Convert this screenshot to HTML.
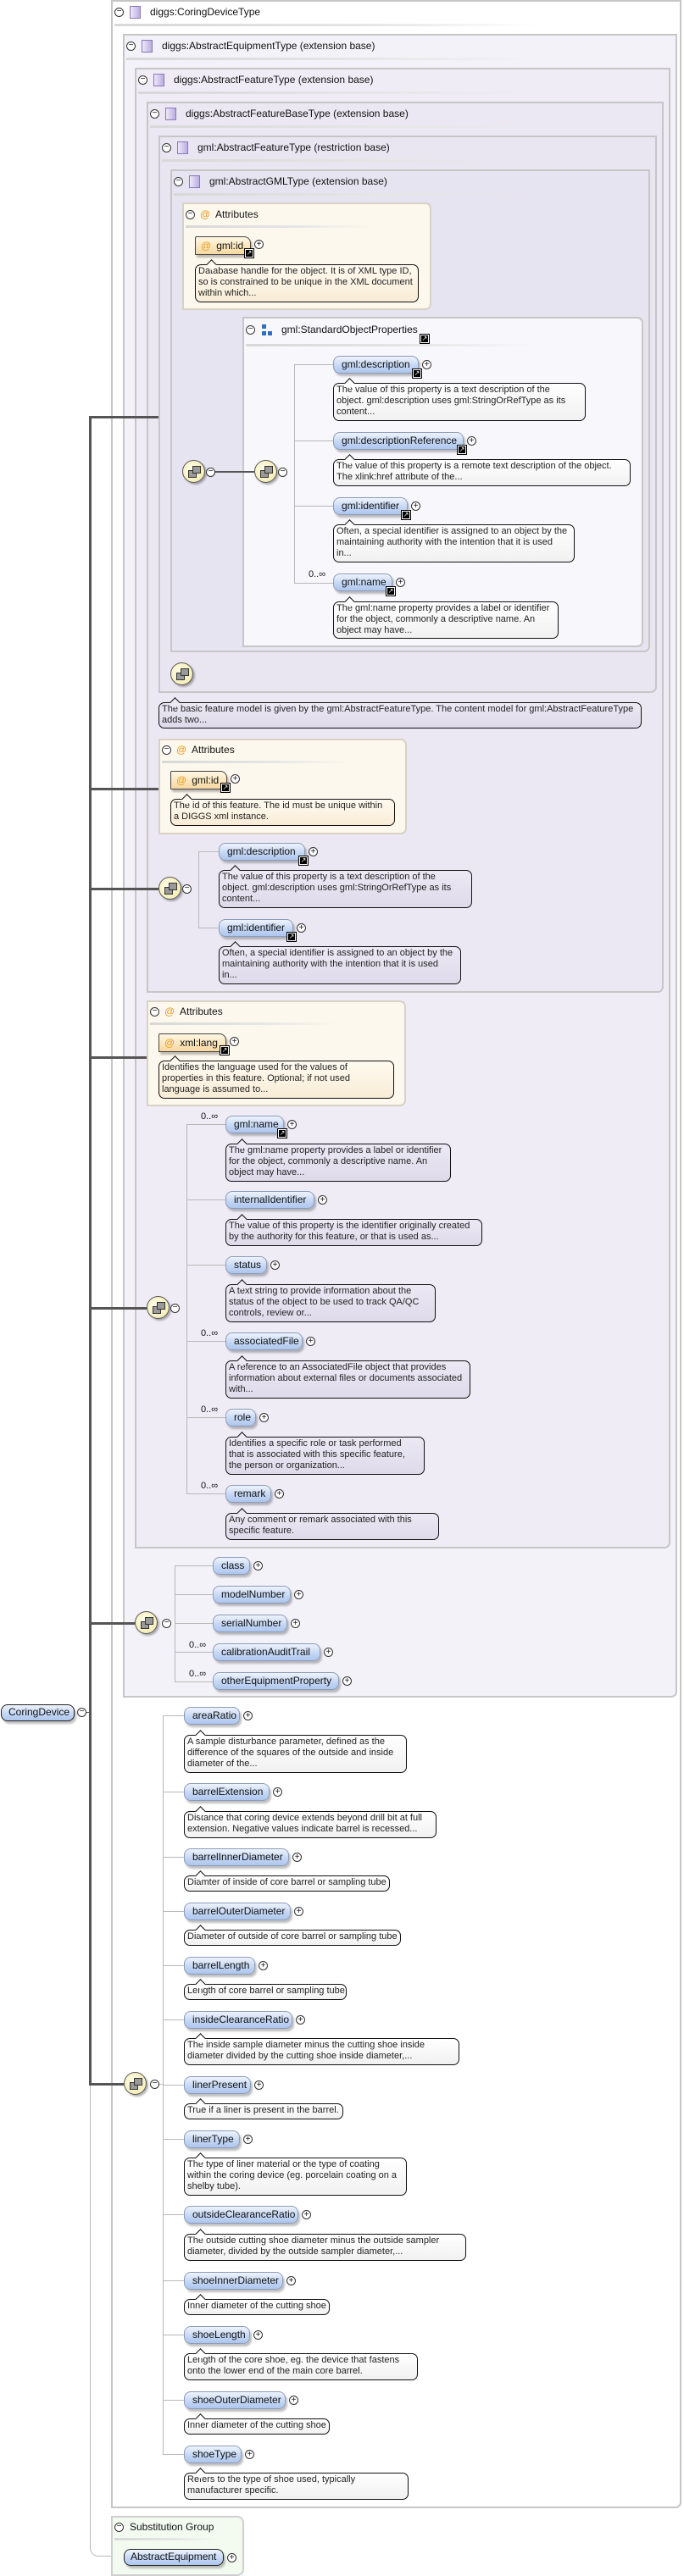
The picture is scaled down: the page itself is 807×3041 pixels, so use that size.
<!DOCTYPE html>
<html><head><meta charset="utf-8"><style>
body{margin:0;width:807px;height:3041px;position:relative;background:#fff;font-family:"Liberation Sans",Arial,sans-serif;overflow:hidden;color:#111}
div{position:absolute;box-sizing:border-box}
.box{border:2px solid #c6c6c6;border-radius:0 0 7px 0}
.ti{font-size:12px;white-space:nowrap;line-height:14px;color:#111}
.ul{height:3px;background:linear-gradient(90deg,#d8d8d8,#e6e6e6 60%,rgba(255,255,255,0))}
.sq{width:13px;height:15px;border:1px solid #8878b8;background:linear-gradient(90deg,#eee8fb,#b9aee0);}
.m{width:11px;height:11px;border:1px solid #333;border-radius:50%;font-size:10px;line-height:8px;text-align:center;background:#fff}
.p{width:11px;height:11px;border:1px solid #333;border-radius:50%;font-size:10px;line-height:9px;text-align:center;background:#fff}
.n{height:21px;line-height:19px;border:1px solid #8c9cb8;border-radius:8px;background:linear-gradient(#eef3fd,#c2d5f3 60%,#aec6ee);font-size:12px;padding-left:9px;white-space:nowrap;box-shadow:2px 3px 2px rgba(0,0,0,.25)}
.r{border:1.5px solid #222}
.a{height:22px;line-height:20px;border:1px solid #444;border-radius:2px 8px 0 0;background:linear-gradient(#fff7e3,#f6d8a0);font-size:12px;padding-left:6px;white-space:nowrap;box-shadow:2px 3px 2px rgba(0,0,0,.25)}
.a b{color:#e89a1c;font-weight:normal;margin-right:6px}
.b{border:1px solid #111;border-radius:7px;background:linear-gradient(#fff,#f1f1f1);font-size:11px;line-height:13px;padding:1px 2px 0 3px;white-space:nowrap;color:#222}
.b::before{content:"";position:absolute;left:14px;top:-5px;width:8px;height:8px;background:#fff;border-left:1px solid #111;border-top:1px solid #111;transform:rotate(45deg)}
.bl{background:linear-gradient(#ece9f5,#dedaea)}
.bl::before{background:#ece9f5}
.bo{background:linear-gradient(#fffaf0,#f8ecd6)}
.bo::before{background:#fffaf0}
.k{width:10px;height:10px;background:#000;border:1px solid #fff;outline:1px solid #000;color:#fff;font-size:8px;line-height:8px;text-align:center}
.h{height:1px;background:#b8b8b8}
.v{width:1px;background:#b8b8b8}
.H{height:3px;background:#555}
.s{width:27px;height:27px;border-radius:50%;border:1px solid #555;background:radial-gradient(circle at 40% 40%,#fffde6,#f1e7a8);box-shadow:2px 2px 2px rgba(0,0,0,.3)}
.s i{position:absolute;width:8px;height:7px;border:1px solid #333;background:#999}
.at{width:12px;height:14px;color:#e89a1c;font-size:12px;line-height:14px}
.c{font-size:11px;white-space:nowrap}
.attr{border:2px solid #d8d2c4;border-radius:0 7px 7px 0;background:#fdf8ed}
</style></head><body>

<!-- Box1 -->
<div class="box" style="left:131px;top:0;width:673px;height:2961px;background:#fff"></div>
<div class="m" style="left:135px;top:9px">−</div><div class="sq" style="left:153px;top:7px"></div>
<div class="ti" style="left:177px;top:7px">diggs:CoringDeviceType</div>
<div class="ul" style="left:135px;top:28px;width:500px"></div>

<!-- Box2 -->
<div class="box" style="left:145px;top:40px;width:654px;height:1964px;background:#f4f2f9"></div>
<div class="m" style="left:149px;top:49px">−</div><div class="sq" style="left:167px;top:47px"></div>
<div class="ti" style="left:191px;top:47px">diggs:AbstractEquipmentType (extension base)</div>
<div class="ul" style="left:149px;top:68px;width:480px"></div>

<!-- Box3 -->
<div class="box" style="left:159px;top:80px;width:632px;height:1748px;background:#efecf6"></div>
<div class="m" style="left:163px;top:89px">−</div><div class="sq" style="left:181px;top:87px"></div>
<div class="ti" style="left:205px;top:87px">diggs:AbstractFeatureType (extension base)</div>
<div class="ul" style="left:163px;top:108px;width:460px"></div>

<!-- Box4 -->
<div class="box" style="left:173px;top:120px;width:610px;height:1052px;background:#ebe8f3"></div>
<div class="m" style="left:177px;top:129px">−</div><div class="sq" style="left:195px;top:127px"></div>
<div class="ti" style="left:219px;top:127px">diggs:AbstractFeatureBaseType (extension base)</div>
<div class="ul" style="left:177px;top:148px;width:450px"></div>

<!-- Box5 -->
<div class="box" style="left:187px;top:160px;width:588px;height:658px;background:#e9e6f2"></div>
<div class="m" style="left:191px;top:169px">−</div><div class="sq" style="left:209px;top:167px"></div>
<div class="ti" style="left:233px;top:167px">gml:AbstractFeatureType (restriction base)</div>
<div class="ul" style="left:191px;top:188px;width:430px"></div>

<!-- Box6 -->
<div class="box" style="left:201px;top:200px;width:566px;height:570px;background:#e7e4f1"></div>
<div class="m" style="left:205px;top:209px">−</div><div class="sq" style="left:223px;top:207px"></div>
<div class="ti" style="left:247px;top:207px">gml:AbstractGMLType (extension base)</div>
<div class="ul" style="left:205px;top:228px;width:420px"></div>

<!-- Attr box A -->
<div class="attr" style="left:215px;top:239px;width:294px;height:127px"></div>
<div class="m" style="left:219px;top:248px">−</div><div class="at" style="left:236px;top:246px">@</div>
<div class="ti" style="left:254px;top:246px">Attributes</div>
<div class="ul" style="left:219px;top:266px;width:220px"></div>
<div class="a" style="left:230px;top:279px;width:66px"><b>@</b>gml:id</div>
<div class="k" style="left:289px;top:294px">↗</div><div class="p" style="left:300px;top:283px">+</div>
<div class="b bo" style="left:230px;top:312px;width:264px;height:45px">Database handle for the object. It is of XML type ID,<br>so is constrained to be unique in the XML document<br>within which...</div>

<!-- SOP box -->
<div class="box" style="left:286px;top:374px;width:473px;height:390px;background:#f8f7fc;border-radius:0 7px 7px 0"></div>
<div class="m" style="left:290px;top:384px">−</div>
<div style="left:309px;top:383px;width:5px;height:5px;background:#2d6fc0"></div>
<div style="left:309px;top:391px;width:5px;height:5px;background:#2d6fc0"></div>
<div style="left:316px;top:391px;width:5px;height:5px;background:#2d6fc0"></div>
<div class="ti" style="left:332px;top:382px">gml:StandardObjectProperties</div>
<div class="k" style="left:496px;top:395px">↗</div>
<div class="ul" style="left:290px;top:406px;width:340px"></div>

<div class="s" style="left:215px;top:543px"><i style="left:6px;top:11px"></i><i style="left:11px;top:6px"></i></div>
<div class="m" style="left:243px;top:552px">−</div>
<div class="H" style="left:254px;top:556px;width:46px;height:2px"></div>
<div class="s" style="left:300px;top:543px"><i style="left:6px;top:11px"></i><i style="left:11px;top:6px"></i></div>
<div class="m" style="left:328px;top:552px">−</div>
<div class="v" style="left:347px;top:430px;height:258px"></div>
<div class="h" style="left:347px;top:430px;width:46px"></div>
<div class="h" style="left:347px;top:520px;width:46px"></div>
<div class="h" style="left:347px;top:597px;width:46px"></div>
<div class="h" style="left:347px;top:688px;width:46px"></div>

<div class="n" style="left:393px;top:420px;width:101px">gml:description</div>
<div class="k" style="left:487px;top:436px">↗</div><div class="p" style="left:498px;top:425px">+</div>
<div class="b" style="left:393px;top:452px;width:298px;height:45px">The value of this property is a text description of the<br>object. gml:description uses gml:StringOrRefType as its<br>content...</div>
<div class="n" style="left:393px;top:510px;width:154px">gml:descriptionReference</div>
<div class="k" style="left:540px;top:526px">↗</div><div class="p" style="left:551px;top:515px">+</div>
<div class="b" style="left:393px;top:542px;width:351px;height:32px">The value of this property is a remote text description of the object.<br>The xlink:href attribute of the...</div>
<div class="n" style="left:393px;top:587px;width:88px">gml:identifier</div>
<div class="k" style="left:474px;top:603px">↗</div><div class="p" style="left:485px;top:592px">+</div>
<div class="b" style="left:393px;top:619px;width:285px;height:45px">Often, a special identifier is assigned to an object by the<br>maintaining authority with the intention that it is used<br>in...</div>
<div class="c" style="left:364px;top:672px">0..∞</div>
<div class="n" style="left:393px;top:677px;width:70px">gml:name</div>
<div class="k" style="left:456px;top:693px">↗</div><div class="p" style="left:467px;top:682px">+</div>
<div class="b" style="left:393px;top:710px;width:266px;height:44px">The gml:name property provides a label or identifier<br>for the object, commonly a descriptive name. An<br>object may have...</div>

<div class="s" style="left:201px;top:782px"><i style="left:6px;top:11px"></i><i style="left:11px;top:6px"></i></div>

<div class="b bl" style="left:187px;top:829px;width:570px;height:31px">The basic feature model is given by the gml:AbstractFeatureType. The content model for gml:AbstractFeatureType<br>adds two...</div>

<!-- Attr box B -->
<div class="attr" style="left:187px;top:872px;width:293px;height:113px"></div>
<div class="m" style="left:191px;top:880px">−</div><div class="at" style="left:208px;top:878px">@</div>
<div class="ti" style="left:226px;top:878px">Attributes</div>
<div class="ul" style="left:191px;top:898px;width:220px"></div>
<div class="a" style="left:201px;top:910px;width:67px"><b>@</b>gml:id</div>
<div class="k" style="left:261px;top:925px">↗</div><div class="p" style="left:272px;top:914px">+</div>
<div class="b bo" style="left:201px;top:943px;width:265px;height:32px">The id of this feature. The id must be unique within<br>a DIGGS xml instance.</div>

<div class="s" style="left:187px;top:1035px"><i style="left:6px;top:11px"></i><i style="left:11px;top:6px"></i></div>
<div class="m" style="left:215px;top:1044px">−</div>
<div class="v" style="left:234px;top:1005px;height:91px"></div>
<div class="h" style="left:234px;top:1005px;width:24px"></div>
<div class="h" style="left:234px;top:1095px;width:24px"></div>
<div class="n" style="left:258px;top:995px;width:102px">gml:description</div>
<div class="k" style="left:353px;top:1011px">↗</div><div class="p" style="left:364px;top:1000px">+</div>
<div class="b bl" style="left:258px;top:1027px;width:299px;height:45px">The value of this property is a text description of the<br>object. gml:description uses gml:StringOrRefType as its<br>content...</div>
<div class="n" style="left:258px;top:1085px;width:88px">gml:identifier</div>
<div class="k" style="left:339px;top:1101px">↗</div><div class="p" style="left:350px;top:1090px">+</div>
<div class="b bl" style="left:258px;top:1117px;width:286px;height:45px">Often, a special identifier is assigned to an object by the<br>maintaining authority with the intention that it is used<br>in...</div>

<!-- Attr box C -->
<div class="attr" style="left:173px;top:1181px;width:306px;height:125px"></div>
<div class="m" style="left:177px;top:1189px">−</div><div class="at" style="left:194px;top:1187px">@</div>
<div class="ti" style="left:212px;top:1187px">Attributes</div>
<div class="ul" style="left:177px;top:1207px;width:220px"></div>
<div class="a" style="left:187px;top:1220px;width:80px"><b>@</b>xml:lang</div>
<div class="k" style="left:260px;top:1235px">↗</div><div class="p" style="left:271px;top:1224px">+</div>
<div class="b bo" style="left:187px;top:1252px;width:278px;height:45px">Identifies the language used for the values of<br>properties in this feature. Optional; if not used<br>language is assumed to...</div>

<!-- box3 sequence -->
<div class="s" style="left:173px;top:1530px"><i style="left:6px;top:11px"></i><i style="left:11px;top:6px"></i></div>
<div class="m" style="left:201px;top:1539px">−</div>
<div class="v" style="left:220px;top:1327px;height:437px"></div>
<div class="h" style="left:220px;top:1327px;width:46px"></div>
<div class="h" style="left:220px;top:1416px;width:46px"></div>
<div class="h" style="left:220px;top:1493px;width:46px"></div>
<div class="h" style="left:220px;top:1583px;width:46px"></div>
<div class="h" style="left:220px;top:1673px;width:46px"></div>
<div class="h" style="left:220px;top:1763px;width:46px"></div>

<div class="c" style="left:237px;top:1312px">0..∞</div>
<div class="n" style="left:266px;top:1317px;width:69px">gml:name</div>
<div class="k" style="left:328px;top:1333px">↗</div><div class="p" style="left:339px;top:1322px">+</div>
<div class="b bl" style="left:266px;top:1350px;width:266px;height:45px">The gml:name property provides a label or identifier<br>for the object, commonly a descriptive name. An<br>object may have...</div>
<div class="n" style="left:266px;top:1406px;width:105px">internalIdentifier</div>
<div class="p" style="left:375px;top:1411px">+</div>
<div class="b bl" style="left:266px;top:1439px;width:303px;height:32px">The value of this property is the identifier originally created<br>by the authority for this feature, or that is used as...</div>
<div class="n" style="left:266px;top:1483px;width:49px">status</div>
<div class="p" style="left:319px;top:1488px">+</div>
<div class="b bl" style="left:266px;top:1516px;width:248px;height:45px">A text string to provide information about the<br>status of the object to be used to track QA/QC<br>controls, review or...</div>
<div class="c" style="left:237px;top:1568px">0..∞</div>
<div class="n" style="left:266px;top:1573px;width:91px">associatedFile</div>
<div class="p" style="left:361px;top:1578px">+</div>
<div class="b bl" style="left:266px;top:1606px;width:289px;height:45px">A reference to an AssociatedFile object that provides<br>information about external files or documents associated<br>with...</div>
<div class="c" style="left:237px;top:1658px">0..∞</div>
<div class="n" style="left:266px;top:1663px;width:36px">role</div>
<div class="p" style="left:306px;top:1668px">+</div>
<div class="b bl" style="left:266px;top:1696px;width:235px;height:45px">Identifies a specific role or task performed<br>that is associated with this specific feature,<br>the person or organization...</div>
<div class="c" style="left:237px;top:1748px">0..∞</div>
<div class="n" style="left:266px;top:1753px;width:54px">remark</div>
<div class="p" style="left:324px;top:1758px">+</div>
<div class="b bl" style="left:266px;top:1786px;width:252px;height:32px">Any comment or remark associated with this<br>specific feature.</div>

<!-- box2 sequence -->
<div class="s" style="left:159px;top:1902px"><i style="left:6px;top:11px"></i><i style="left:11px;top:6px"></i></div>
<div class="m" style="left:191px;top:1911px">−</div>
<div class="v" style="left:206px;top:1848px;height:138px"></div>
<div class="h" style="left:206px;top:1848px;width:45px"></div>
<div class="h" style="left:206px;top:1882px;width:45px"></div>
<div class="h" style="left:206px;top:1916px;width:45px"></div>
<div class="h" style="left:206px;top:1950px;width:45px"></div>
<div class="h" style="left:206px;top:1985px;width:45px"></div>
<div class="n" style="left:251px;top:1838px;width:44px">class</div><div class="p" style="left:299px;top:1843px">+</div>
<div class="n" style="left:251px;top:1872px;width:92px">modelNumber</div><div class="p" style="left:347px;top:1877px">+</div>
<div class="n" style="left:251px;top:1906px;width:88px">serialNumber</div><div class="p" style="left:343px;top:1911px">+</div>
<div class="c" style="left:223px;top:1936px">0..∞</div>
<div class="n" style="left:251px;top:1940px;width:127px">calibrationAuditTrail</div><div class="p" style="left:382px;top:1945px">+</div>
<div class="c" style="left:223px;top:1970px">0..∞</div>
<div class="n" style="left:251px;top:1974px;width:149px">otherEquipmentProperty</div><div class="p" style="left:404px;top:1979px">+</div>

<!-- main connectors -->
<div class="H" style="left:105px;top:491px;width:3px;height:1971px"></div>
<div class="H" style="left:105px;top:491px;width:82px"></div>
<div class="H" style="left:105px;top:930px;width:82px"></div>
<div class="H" style="left:105px;top:1048px;width:82px"></div>
<div class="H" style="left:105px;top:1247px;width:68px"></div>
<div class="H" style="left:105px;top:1543px;width:68px"></div>
<div class="H" style="left:105px;top:1915px;width:54px"></div>
<div class="H" style="left:105px;top:2459px;width:41px"></div>
<div class="h" style="left:101px;top:2021px;width:5px;background:#555"></div>
<div class="v" style="left:106px;top:2462px;height:548px"></div>
<div style="left:106px;top:2998px;width:40px;height:20px;border-left:1px solid #b8b8b8;border-bottom:1px solid #b8b8b8;border-radius:0 0 0 10px"></div>

<div class="n r" style="left:1px;top:2012px;width:87px;height:20px;line-height:17px;padding-left:8px">CoringDevice</div>
<div class="m" style="left:91px;top:2016px">−</div>

<!-- CoringDevice sequence -->
<div class="s" style="left:146px;top:2446px"><i style="left:6px;top:11px"></i><i style="left:11px;top:6px"></i></div>
<div class="m" style="left:177px;top:2455px">−</div>
<div class="v" style="left:192px;top:2025px;height:872px"></div>
<div class="h" style="left:188px;top:2460px;width:4px"></div>

<div class="h" style="left:192px;top:2025px;width:25px"></div>
<div class="n" style="left:217px;top:2015px;width:66px">areaRatio</div><div class="p" style="left:287px;top:2020px">+</div>
<div class="b" style="left:217px;top:2048px;width:263px;height:45px">A sample disturbance parameter, defined as the<br>difference of the squares of the outside and inside<br>diameter of the...</div>

<div class="h" style="left:192px;top:2115px;width:25px"></div>
<div class="n" style="left:217px;top:2105px;width:101px">barrelExtension</div><div class="p" style="left:322px;top:2110px">+</div>
<div class="b" style="left:217px;top:2138px;width:298px;height:32px">Distance that coring device extends beyond drill bit at full<br>extension. Negative values indicate barrel is recessed...</div>

<div class="h" style="left:192px;top:2192px;width:25px"></div>
<div class="n" style="left:217px;top:2182px;width:124px">barrelInnerDiameter</div><div class="p" style="left:345px;top:2187px">+</div>
<div class="b" style="left:217px;top:2214px;width:243px;height:19px">Diamter of inside of core barrel or sampling tube</div>

<div class="h" style="left:192px;top:2256px;width:25px"></div>
<div class="n" style="left:217px;top:2246px;width:126px">barrelOuterDiameter</div><div class="p" style="left:347px;top:2251px">+</div>
<div class="b" style="left:217px;top:2278px;width:256px;height:19px">Diameter of outside of core barrel or sampling tube</div>

<div class="h" style="left:192px;top:2320px;width:25px"></div>
<div class="n" style="left:217px;top:2310px;width:84px">barrelLength</div><div class="p" style="left:305px;top:2315px">+</div>
<div class="b" style="left:217px;top:2342px;width:192px;height:19px">Length of core barrel or sampling tube</div>

<div class="h" style="left:192px;top:2384px;width:25px"></div>
<div class="n" style="left:217px;top:2374px;width:128px">insideClearanceRatio</div><div class="p" style="left:349px;top:2379px">+</div>
<div class="b" style="left:217px;top:2406px;width:325px;height:32px">The inside sample diameter minus the cutting shoe inside<br>diameter divided by the cutting shoe inside diameter,...</div>

<div class="h" style="left:192px;top:2461px;width:25px"></div>
<div class="n" style="left:217px;top:2451px;width:79px">linerPresent</div><div class="p" style="left:300px;top:2456px">+</div>
<div class="b" style="left:217px;top:2483px;width:188px;height:19px">True if a liner is present in the barrel.</div>

<div class="h" style="left:192px;top:2525px;width:25px"></div>
<div class="n" style="left:217px;top:2515px;width:66px">linerType</div><div class="p" style="left:287px;top:2520px">+</div>
<div class="b" style="left:217px;top:2547px;width:263px;height:45px">The type of liner material or the type of coating<br>within the coring device (eg. porcelain coating on a<br>shelby tube).</div>

<div class="h" style="left:192px;top:2614px;width:25px"></div>
<div class="n" style="left:217px;top:2604px;width:135px">outsideClearanceRatio</div><div class="p" style="left:356px;top:2609px">+</div>
<div class="b" style="left:217px;top:2637px;width:333px;height:32px">The outside cutting shoe diameter minus the outside sampler<br>diameter, divided by the outside sampler diameter,...</div>

<div class="h" style="left:192px;top:2692px;width:25px"></div>
<div class="n" style="left:217px;top:2682px;width:117px">shoeInnerDiameter</div><div class="p" style="left:338px;top:2687px">+</div>
<div class="b" style="left:217px;top:2714px;width:172px;height:19px">Inner diameter of the cutting shoe</div>

<div class="h" style="left:192px;top:2756px;width:25px"></div>
<div class="n" style="left:217px;top:2746px;width:78px">shoeLength</div><div class="p" style="left:299px;top:2751px">+</div>
<div class="b" style="left:217px;top:2778px;width:276px;height:32px">Length of the core shoe, eg. the device that fastens<br>onto the lower end of the main core barrel.</div>

<div class="h" style="left:192px;top:2833px;width:25px"></div>
<div class="n" style="left:217px;top:2823px;width:120px">shoeOuterDiameter</div><div class="p" style="left:341px;top:2828px">+</div>
<div class="b" style="left:217px;top:2855px;width:172px;height:19px">Inner diameter of the cutting shoe</div>

<div class="h" style="left:192px;top:2897px;width:25px"></div>
<div class="n" style="left:217px;top:2887px;width:68px">shoeType</div><div class="p" style="left:289px;top:2892px">+</div>
<div class="b" style="left:217px;top:2919px;width:265px;height:32px">Refers to the type of shoe used, typically<br>manufacturer specific.</div>

<!-- Substitution group -->
<div style="left:131px;top:2970px;width:157px;height:71px;border:2px solid #cfcfcf;border-radius:0 8px 8px 0;background:#f3fbf1"></div>
<div class="m" style="left:135px;top:2978px">−</div>
<div class="ti" style="left:153px;top:2976px">Substitution Group</div>
<div class="ul" style="left:135px;top:2996px;width:120px"></div>
<div class="n r" style="left:146px;top:3009px;width:118px;height:20px;line-height:17px;padding-left:7px">AbstractEquipment</div>
<div class="p" style="left:268px;top:3014px">+</div>

</body></html>
